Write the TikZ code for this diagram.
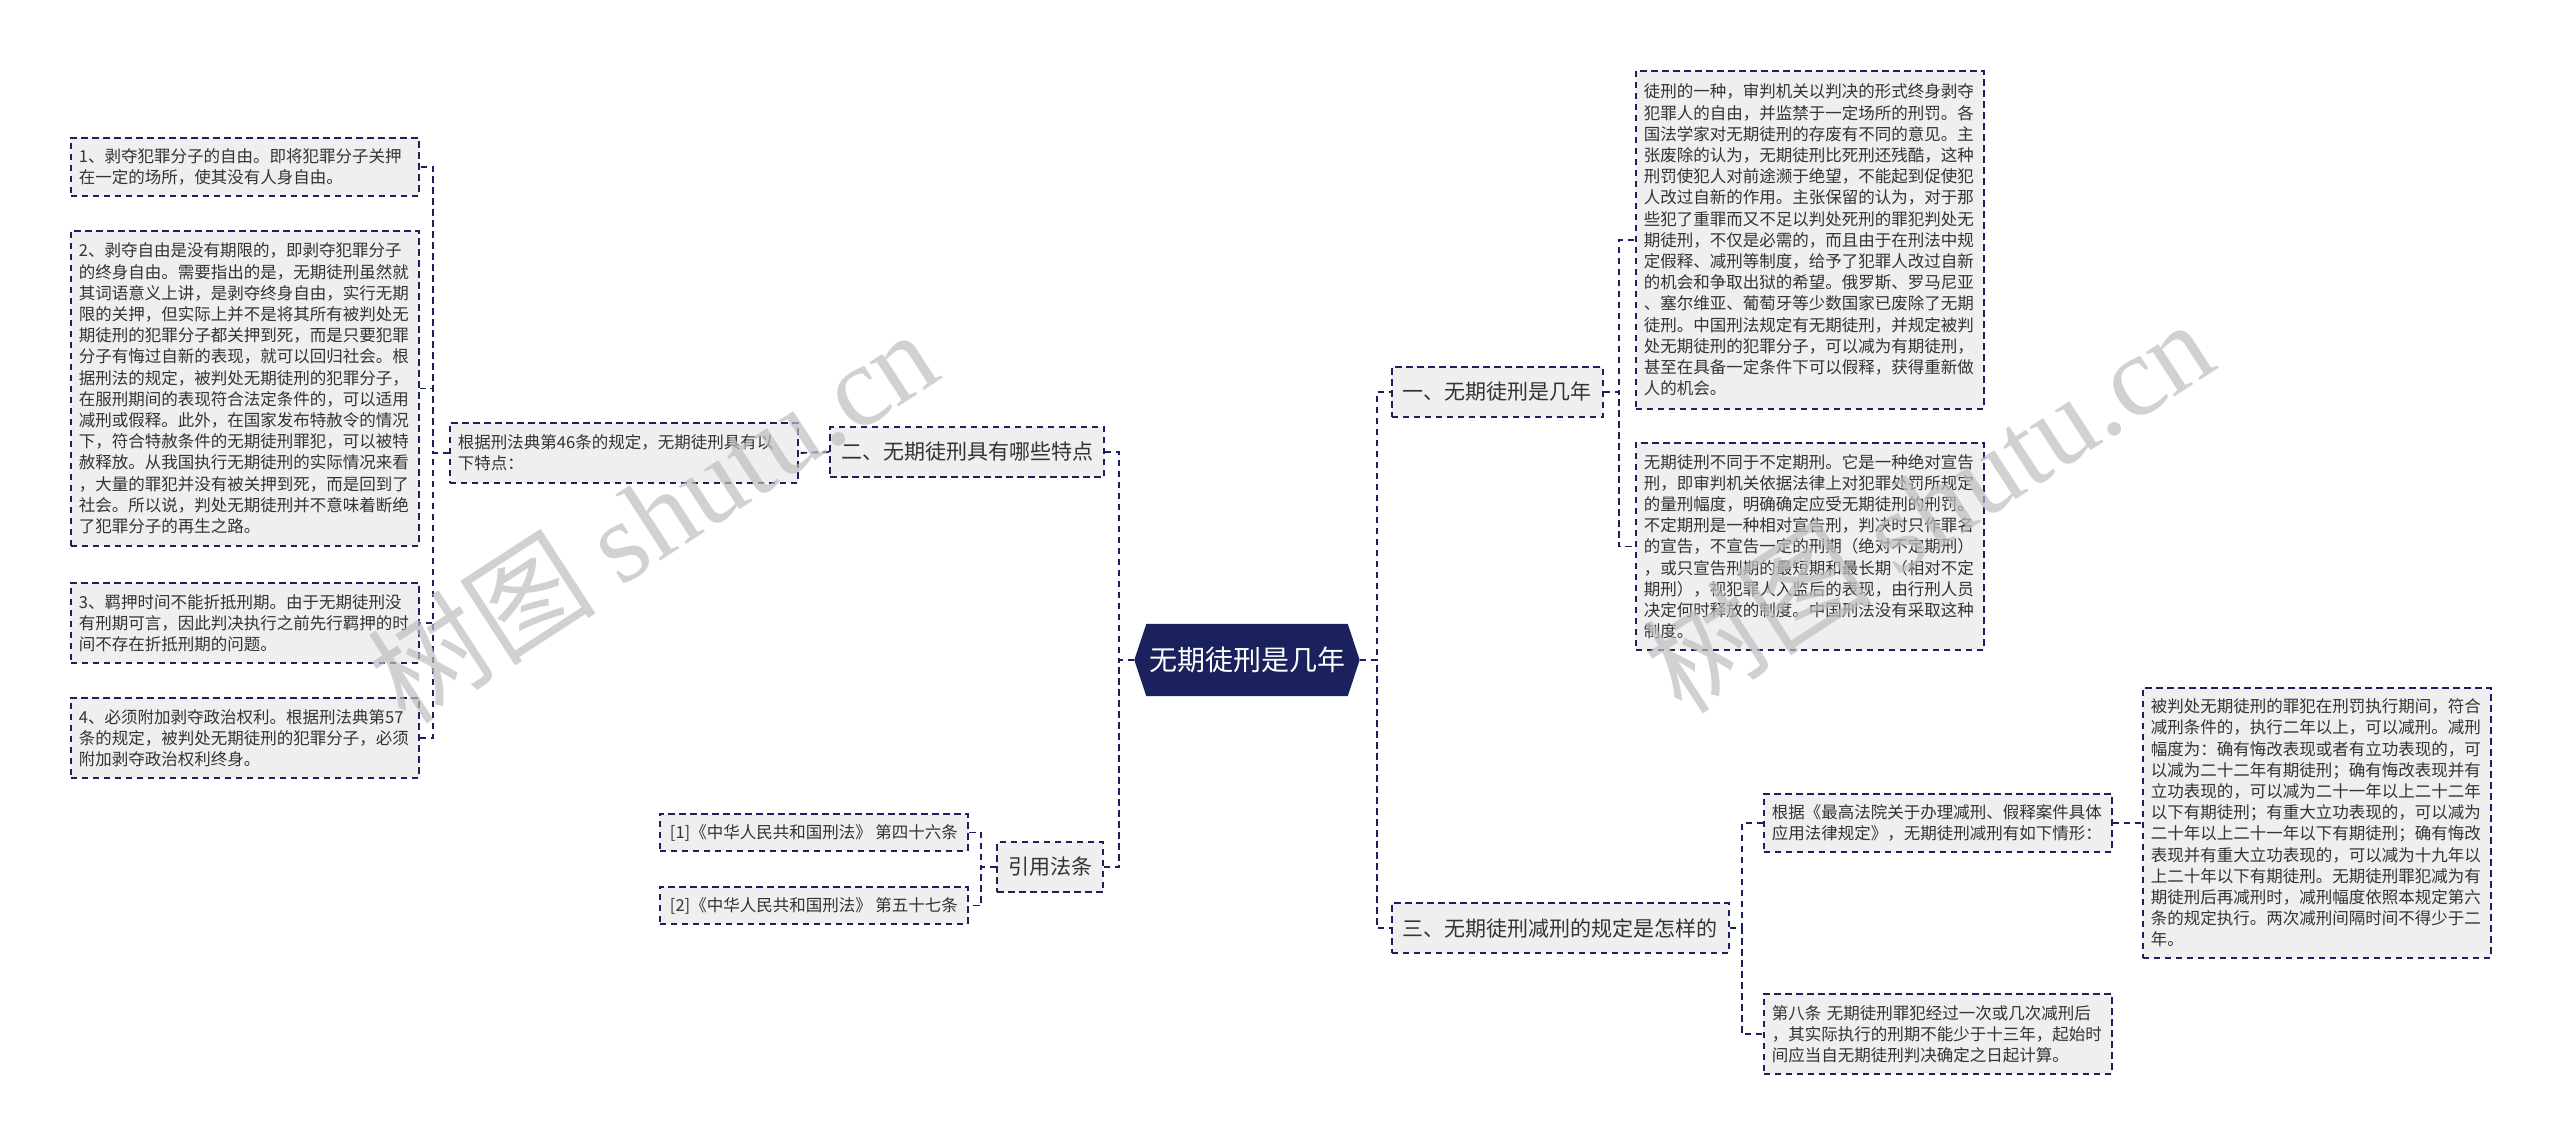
\documentclass[tikz,border=0pt]{standalone}
\usepackage{fontspec}
\setmainfont{Noto Sans CJK SC}
\newfontfamily\wmlatin{Liberation Serif}
\usetikzlibrary{backgrounds}
\definecolor{navy}{RGB}{27,33,92}
\definecolor{boxfill}{RGB}{239,239,239}
\definecolor{txt}{RGB}{51,51,51}
\definecolor{wm}{RGB}{190,190,190}
\tikzset{
  dsh/.style={dash pattern=on 6.5pt off 4.5pt},
  leaf/.style={draw=navy, dsh, line width=1.9pt, fill=boxfill, text=txt, align=left,
    inner xsep=8pt, inner ysep=0pt, text width=332pt,
    font=\fontsize{16.5}{21.2}\selectfont},
  lvl/.style={draw=navy, dsh, line width=1.9pt, fill=boxfill, text=txt,
    inner xsep=11pt, inner ysep=0pt, minimum height=50pt,
    font=\fontsize{21}{25}\selectfont},
  conn/.style={draw=navy, dsh, line width=1.9pt},
  wmark/.style={text=wm, text opacity=0.7, rotate=33, inner sep=0pt},
}
\begin{document}
\begin{tikzpicture}[x=1pt,y=-1pt]
\useasboundingbox (0,0) rectangle (2560,1144);

% central
\node[text=white, font=\fontsize{28}{32}\selectfont, minimum width=225pt, minimum height=72pt, inner sep=0pt] (c) at (1247,660) {无期徒刑是几年};
\begin{pgfonlayer}{background}
\fill[white] (0,0) rectangle (2560,1144);
\fill[navy] (c.west) -- ([xshift=12pt]c.north west) -- ([xshift=-12pt]c.north east) -- (c.east) -- ([xshift=-12pt]c.south east) -- ([xshift=12pt]c.south west) -- cycle;
\end{pgfonlayer}

% level 1
\node[lvl, anchor=west] (n1) at (1391,392) {一、无期徒刑是几年};
\node[lvl, anchor=east] (n2) at (1105,452) {二、无期徒刑具有哪些特点};
\node[lvl, anchor=west] (n3) at (1391,928) {三、无期徒刑减刑的规定是怎样的};
\node[lvl, anchor=east] (n4) at (1104,867) {引用法条};

% left branch
\node[leaf, anchor=north west, minimum height=60pt] (g46) at (449,422) {根据刑法典第46条的规定，无期徒刑具有以\\下特点：};
\node[leaf, anchor=north west, minimum height=58pt] (L1) at (70,137) {1、剥夺犯罪分子的自由。即将犯罪分子关押\\在一定的场所，使其没有人身自由。};
\node[leaf, anchor=north west, minimum height=315pt] (L2) at (70,230) {2、剥夺自由是没有期限的，即剥夺犯罪分子\\的终身自由。需要指出的是，无期徒刑虽然就\\其词语意义上讲，是剥夺终身自由，实行无期\\限的关押，但实际上并不是将其所有被判处无\\期徒刑的犯罪分子都关押到死，而是只要犯罪\\分子有悔过自新的表现，就可以回归社会。根\\据刑法的规定，被判处无期徒刑的犯罪分子，\\在服刑期间的表现符合法定条件的，可以适用\\减刑或假释。此外，在国家发布特赦令的情况\\下，符合特赦条件的无期徒刑罪犯，可以被特\\赦释放。从我国执行无期徒刑的实际情况来看\\，大量的罪犯并没有被关押到死，而是回到了\\社会。所以说，判处无期徒刑并不意味着断绝\\了犯罪分子的再生之路。};
\node[leaf, anchor=north west, minimum height=80pt] (L3) at (70,582) {3、羁押时间不能折抵刑期。由于无期徒刑没\\有刑期可言，因此判决执行之前先行羁押的时\\间不存在折抵刑期的问题。};
\node[leaf, anchor=north west, minimum height=80pt] (L4) at (70,697) {4、必须附加剥夺政治权利。根据刑法典第57\\条的规定，被判处无期徒刑的犯罪分子，必须\\附加剥夺政治权利终身。};

% citations
\node[leaf, text width=, anchor=north west, minimum height=37pt, minimum width=308pt] (C1) at (659,813) {[1]《中华人民共和国刑法》 第四十六条};
\node[leaf, text width=, anchor=north west, minimum height=37pt, minimum width=308pt] (C2) at (659,886) {[2]《中华人民共和国刑法》 第五十七条};

% right branch 1
\node[leaf, anchor=north west, minimum height=338pt] (R1) at (1635,70) {徒刑的一种，审判机关以判决的形式终身剥夺\\犯罪人的自由，并监禁于一定场所的刑罚。各\\国法学家对无期徒刑的存废有不同的意见。主\\张废除的认为，无期徒刑比死刑还残酷，这种\\刑罚使犯人对前途濒于绝望，不能起到促使犯\\人改过自新的作用。主张保留的认为，对于那\\些犯了重罪而又不足以判处死刑的罪犯判处无\\期徒刑，不仅是必需的，而且由于在刑法中规\\定假释、减刑等制度，给予了犯罪人改过自新\\的机会和争取出狱的希望。俄罗斯、罗马尼亚\\、塞尔维亚、葡萄牙等少数国家已废除了无期\\徒刑。中国刑法规定有无期徒刑，并规定被判\\处无期徒刑的犯罪分子，可以减为有期徒刑，\\甚至在具备一定条件下可以假释，获得重新做\\人的机会。};
\node[leaf, anchor=north west, minimum height=207pt] (R2) at (1635,442) {无期徒刑不同于不定期刑。它是一种绝对宣告\\刑，即审判机关依据法律上对犯罪处罚所规定\\的量刑幅度，明确确定应受无期徒刑的刑罚。\\不定期刑是一种相对宣告刑，判决时只作罪名\\的宣告，不宣告一定的刑期（绝对不定期刑）\\，或只宣告刑期的最短期和最长期（相对不定\\期刑），视犯罪人入监后的表现，由行刑人员\\决定何时释放的制度。中国刑法没有采取这种\\制度。};

% right branch 3
\node[leaf, anchor=north west, minimum height=58pt] (R3) at (1763,793) {根据《最高法院关于办理减刑、假释案件具体\\应用法律规定》，无期徒刑减刑有如下情形：};
\node[leaf, anchor=north west, minimum height=80pt] (R4) at (1763,993) {第八条 无期徒刑罪犯经过一次或几次减刑后\\，其实际执行的刑期不能少于十三年，起始时\\间应当自无期徒刑判决确定之日起计算。};
\node[leaf, anchor=north west, minimum height=270pt] (R5) at (2142,687) {被判处无期徒刑的罪犯在刑罚执行期间，符合\\减刑条件的，执行二年以上，可以减刑。减刑\\幅度为：确有悔改表现或者有立功表现的，可\\以减为二十二年有期徒刑；确有悔改表现并有\\立功表现的，可以减为二十一年以上二十二年\\以下有期徒刑；有重大立功表现的，可以减为\\二十年以上二十一年以下有期徒刑；确有悔改\\表现并有重大立功表现的，可以减为十九年以\\上二十年以下有期徒刑。无期徒刑罪犯减为有\\期徒刑后再减刑时，减刑幅度依照本规定第六\\条的规定执行。两次减刑间隔时间不得少于二\\年。};

% connectors
\draw[conn] (c.west) -- ++(-15,0) |- (n2.east);
\draw[conn] (c.west) -- ++(-15,0) |- (n4.east);
\draw[conn] (c.east) -- ++(17,0) |- (n1.west);
\draw[conn] (c.east) -- ++(17,0) |- (n3.west);
\draw[conn] (n2.west) -- (g46.east);
\draw[conn] (g46.west) -- ++(-16,0) |- (L1.east);
\draw[conn] (g46.west) -- ++(-16,0) |- (L2.east);
\draw[conn] (g46.west) -- ++(-16,0) |- (L3.east);
\draw[conn] (g46.west) -- ++(-16,0) |- (L4.east);
\draw[conn] (n4.west) -- ++(-15,0) |- (C1.east);
\draw[conn] (n4.west) -- ++(-15,0) |- (C2.east);
\draw[conn] (n1.east) -- ++(15,0) |- (R1.west);
\draw[conn] (n1.east) -- ++(15,0) |- (R2.west);
\draw[conn] (n3.east) -- ++(12,0) |- (R3.west);
\draw[conn] (n3.east) -- ++(12,0) |- (R4.west);
\draw[conn] (R3.east) -- (R5.west);

% watermarks
\node[wmark] (wm1) at (652,515) {\fontsize{115}{115}\selectfont 树图 {\wmlatin shutu.cn}};
\node[wmark] (wm2) at (1928,505) {\fontsize{115}{115}\selectfont 树图 {\wmlatin shutu.cn}};
\end{tikzpicture}
\end{document}
